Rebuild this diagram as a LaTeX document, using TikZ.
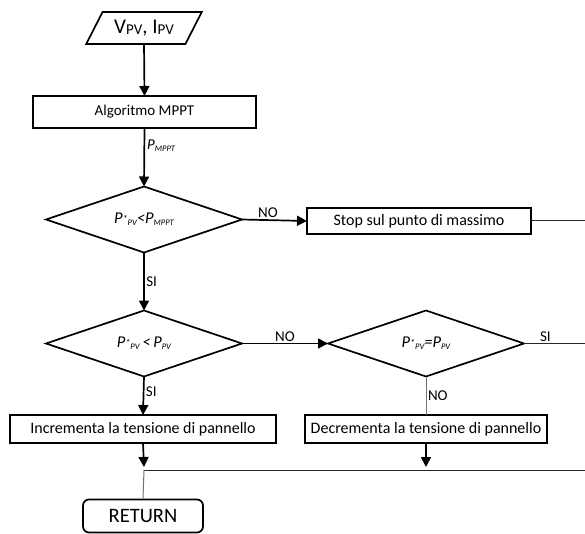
\documentclass[tikz,border=0pt]{standalone}
\usepackage{fontspec}
\setmainfont{Carlito}
\usetikzlibrary{shapes.geometric,arrows.meta}

% small lowered / raised text used for indices
\newcommand\lowtxt[1]{\raisebox{-2pt}{\fontsize{8.5}{9}\selectfont #1}}
\newcommand\hightxt[1]{\raisebox{1.5pt}{\fontsize{10}{10}\selectfont #1}}
\newcommand\bigsub[1]{\raisebox{-1pt}{\fontsize{15}{15}\selectfont #1}}

\begin{document}
\begin{tikzpicture}[x=1pt,y=-1pt,
  box/.style={draw, line width=1.7pt, inner sep=0pt, outer sep=0pt,
    minimum height=28pt, font=\fontsize{16}{18}\selectfont},
  decision/.style={draw, diamond, aspect=3, line width=1.7pt, inner sep=0pt,
    outer sep=0pt, minimum width=196pt, minimum height=66pt,
    font=\fontsize{16.5}{18}\selectfont\itshape},
  flow/.style={line width=1.7pt, -{Triangle[length=10pt,width=10pt]}},
  thinline/.style={line width=1pt, black!85},
  greyline/.style={line width=1pt, black!55},
  lbl/.style={font=\fontsize{15}{17}\selectfont, inner sep=1.5pt, text=black},
]
\useasboundingbox (0,0) rectangle (585,534);

% blocks
\node[trapezium, trapezium left angle=54, trapezium right angle=126,
  trapezium stretches=true, draw, line width=1.7pt, inner sep=0pt,
  outer sep=0pt, minimum width=116pt, minimum height=32pt,
  font=\fontsize{21}{22}\selectfont] (input) at (144,28)
  {V\bigsub{PV}, I\bigsub{PV}};
\node[box, minimum width=223pt, minimum height=32pt,
  font=\fontsize{15}{17}\selectfont] (mppt) at (144.5,112)
  {Algoritmo MPPT};
\node[decision] (d1) at (144,219.5)
  {P\hightxt{*}\lowtxt{PV}<P\lowtxt{MPPT}};
\node[box, minimum width=224pt, minimum height=26pt] (stop) at (419,221)
  {Stop sul punto di massimo};
\node[decision] (d2) at (144,343.5)
  {P\hightxt{*}\lowtxt{PV}\,<\,P\lowtxt{PV}};
\node[decision] (d3) at (426,343.5)
  {P\hightxt{*}\lowtxt{PV}=P\lowtxt{PV}};
\node[box, minimum width=266pt] (inc) at (143,429)
  {Incrementa la tensione di pannello};
\node[box, minimum width=242pt] (dec) at (426,429)
  {Decrementa la tensione di pannello};
\node[draw, rounded corners=6pt, line width=1.7pt, inner sep=0pt,
  minimum width=120pt, minimum height=33pt,
  font=\fontsize{20.5}{22}\selectfont] (ret) at (143,516) {RETURN};

% free ends and junctions
\coordinate (e1) at (585,221);
\coordinate (e2) at (585,343.5);
\coordinate (join) at (144,470);
\coordinate (tipa) at (144,467);
\coordinate (tipb) at (426,467);
\coordinate (e3) at (585,470);

% connectors
\draw[flow] (input.south) -- (mppt.north);
\draw[flow] (mppt.south) -- node[pos=0.3, anchor=west, inner sep=2pt,
  font=\fontsize{15}{17}\selectfont\itshape] {P\lowtxt{MPPT}} (d1.north);
\draw[flow] (d1.east) -- node[pos=0.4, above, lbl] {NO} (stop.west);
\draw[thinline] (stop.east) -- (e1);
\draw[flow] (d1.south) -- node[pos=0.5, anchor=west, lbl] {SI} (d2.north);
\draw[flow] (d2.east) -- node[pos=0.5, above, lbl] {NO} (d3.west);
\draw[thinline] (d3.east) -- node[pos=0.35, above, lbl] {SI} (e2);
\draw[flow] (d2.south) -- node[pos=0.4, anchor=west, lbl] {SI} (inc.north);
\draw[greyline] (d3.south) -- node[pos=0.5, anchor=west, lbl] {NO} (dec.north);
\draw[flow] (inc.south) -- (tipa);
\draw[flow] (dec.south) -- (tipb);
\draw[thinline] (join) -- (e3);
\draw[greyline] (join) -- (ret.north);
\end{tikzpicture}
\end{document}
